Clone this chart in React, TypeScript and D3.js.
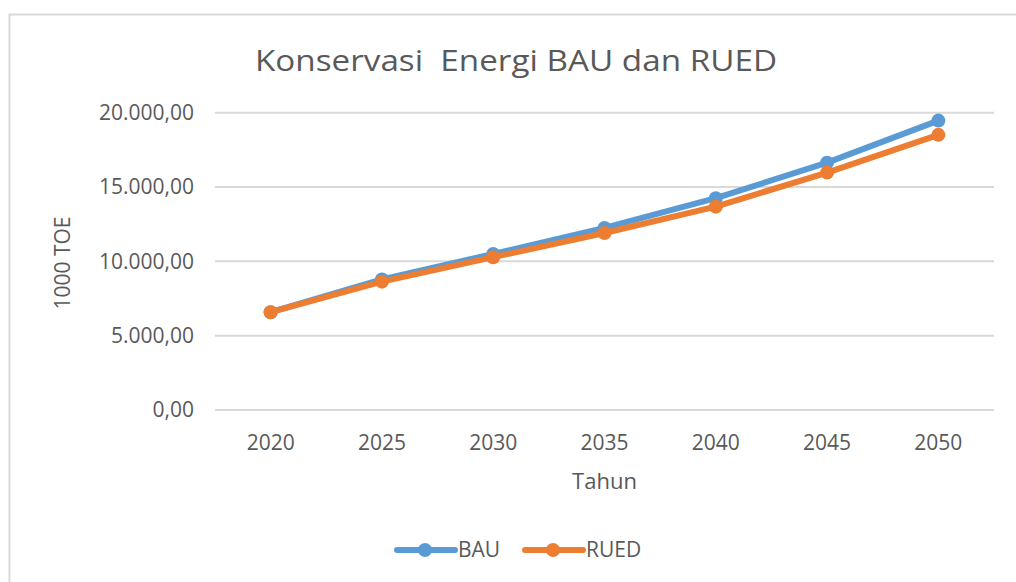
import React from "react";
import * as d3 from "d3";

const years = ["2020", "2025", "2030", "2035", "2040", "2045", "2050"];
const bau = [6580, 8780, 10500, 12250, 14250, 16640, 19470];
const rued = [6580, 8635, 10280, 11910, 13680, 15970, 18510];
const yTicks = [0, 5000, 10000, 15000, 20000];
const seriesNames = ["BAU", "RUED"];
const colors = ["#5B9BD5", "#ED7D31"];

const W = 1016, H = 582;
const FONT = "'Open Sans', 'DejaVu Sans', sans-serif";

export default function App() {
  const x = d3.scaleBand<string>().domain(years).range([215, 994]);
  const y = d3.scaleLinear().domain([0, 20000]).range([410, 112.7]);
  const fmt = (v: number) => {
    const s = d3.format(",.2f")(v);
    return s.replace(/,/g, "#").replace(".", ",").replace(/#/g, ".");
  };
  const line = d3
    .line<number>()
    .x((_, i) => (x(years[i]) as number) + x.bandwidth() / 2)
    .y((d) => y(d));
  const data = [bau, rued];
  return (
    <div style={{ position: "absolute", left: 0, top: 0 }}>
      <svg width={W} height={H} style={{ display: "block" }}>
        <rect x={0} y={0} width={W} height={H} fill="#fff" />
        <rect x={9.5} y={14.5} width={1030} height={600} fill="#fff" stroke="#D9D9D9" strokeWidth={2} />
        <text x={516} y={71} textAnchor="middle" fontFamily={FONT} fontSize={30} fill="#595959" textLength={522} lengthAdjust="spacingAndGlyphs" style={{ whiteSpace: "pre" }}>
          {"Konservasi  Energi BAU dan RUED"}
        </text>
        {yTicks.map((t) => (
          <g key={t}>
            <line x1={215} x2={994} y1={y(t)} y2={y(t)} stroke="#D9D9D9" strokeWidth={2} />
            <text x={194} y={y(t)} dy="0.35em" textAnchor="end" fontFamily={FONT} fontSize={21} fill="#595959">
              {fmt(t)}
            </text>
          </g>
        ))}
        {years.map((yr) => (
          <text key={yr} x={(x(yr) as number) + x.bandwidth() / 2} y={443} dy="0.35em" textAnchor="middle" fontFamily={FONT} fontSize={21} fill="#595959">
            {yr}
          </text>
        ))}
        <text x={604.5} y={481} dy="0.35em" textAnchor="middle" fontFamily={FONT} fontSize={22} fill="#595959">
          Tahun
        </text>
        <text transform={`translate(63,263) rotate(-90)`} dy="0.35em" textAnchor="middle" fontFamily={FONT} fontSize={21} fill="#595959">
          1000 TOE
        </text>
        {data.map((vals, si) => (
          <g key={si}>
            <path d={line(vals) as string} fill="none" stroke={colors[si]} strokeWidth={6} strokeLinejoin="round" strokeLinecap="round" />
            {vals.map((v, i) => (
              <circle key={i} cx={(x(years[i]) as number) + x.bandwidth() / 2} cy={y(v)} r={7} fill={colors[si]} />
            ))}
          </g>
        ))}
        {seriesNames.map((n, si) => {
          const lx = si === 0 ? 397 : 525;
          return (
            <g key={n}>
              <line x1={lx} x2={lx + 58} y1={550} y2={550} stroke={colors[si]} strokeWidth={6} strokeLinecap="round" />
              <circle cx={lx + 28} cy={550} r={7} fill={colors[si]} />
              <text x={lx + 61} y={550} dy="0.35em" fontFamily={FONT} fontSize={21} fill="#595959">
                {n}
              </text>
            </g>
          );
        })}
      </svg>
    </div>
  );
}
